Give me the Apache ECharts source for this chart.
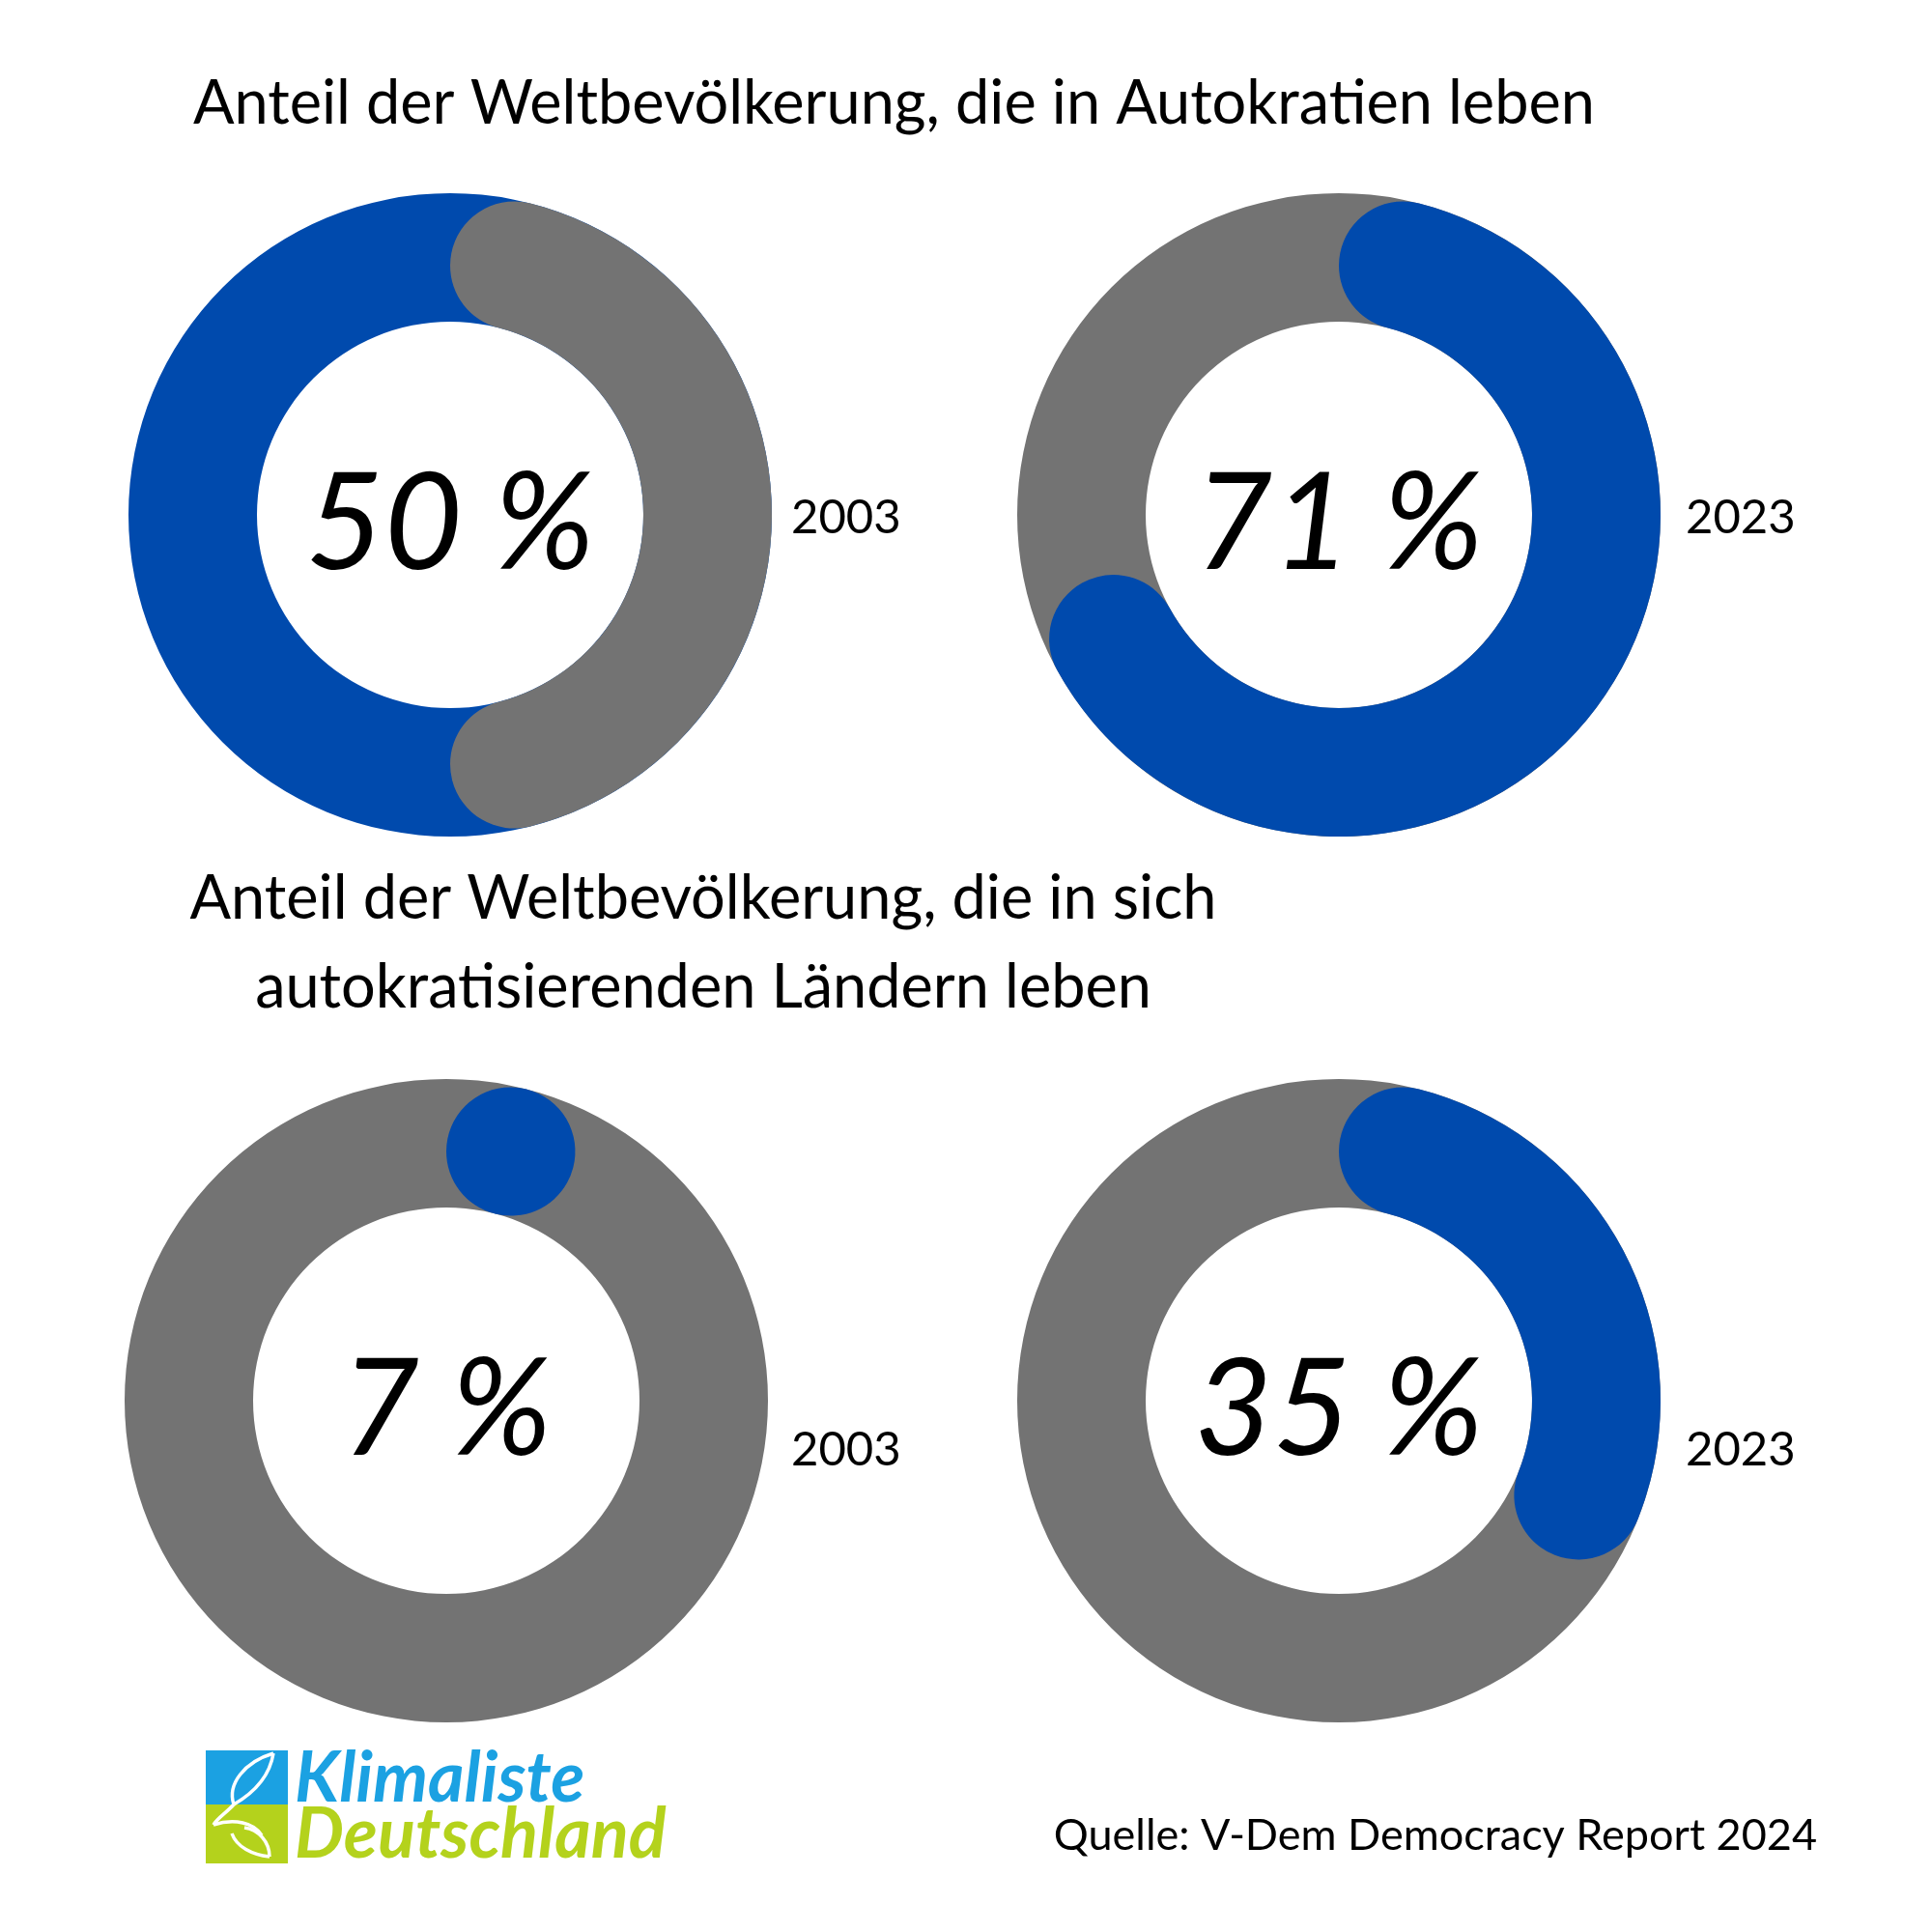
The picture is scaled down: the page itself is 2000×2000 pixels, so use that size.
<!DOCTYPE html>
<html><head><meta charset="utf-8">
<script src="https://cdn.jsdelivr.net/npm/echarts@6/dist/echarts.min.js"></script>
<style>html,body{margin:0;padding:0;background:#fff}#c{width:2000px;height:2000px}</style>
</head><body><div id="c"></div>
<script>
// ---- data ----
const years = ['2003', '2023', '2003', '2023'];
const shares = [50, 71, 7, 35];               // % of world population
const titles = ['Anteil der Weltbevölkerung, die in Autokratien leben',
                'Anteil der Weltbevölkerung, die in sich\nautokratisierenden Ländern leben'];
const sourceText = 'Quelle: V-Dem Democracy Report 2024';
const logoLines = ['Klimaliste', 'Deutschland'];

// ---- style / layout ----
const BLUE = '#004AAD', GRAY = '#737373', NONE = 'rgba(0,0,0,0)';
const FONT = 'Lato, "Open Sans", "Noto Sans", sans-serif';
const centers = [[466, 533], [1386, 533], [462, 1450], [1386, 1450]];
const yearPos = [[819, 536], [1745, 536], [819, 1501], [1745, 1501]];
const R0 = 200, R1 = 333, CAP = (R1 - R0) / 2;
const LABEL_DY = 11;
const MIN_ANGLE = 29; // a rounded arc can not be shorter than a full circle cap
const arcIsRest = [true, false, false, false]; // first donut: grey arc drawn over blue ring

const series = [];
shares.forEach((s, i) => {
  const rest = 100 - s;
  series.push({
    type: 'pie', center: centers[i], radius: [R0, R1], startAngle: 90,
    silent: true, animation: false,
    data: [{ value: 100, itemStyle: { color: arcIsRest[i] ? BLUE : GRAY } }],
    label: { show: false }, labelLine: { show: false }
  });
  const arc = arcIsRest[i]
    ? [{ value: rest, itemStyle: { color: GRAY, borderRadius: CAP } }, { value: s, itemStyle: { color: NONE } }]
    : [{ value: s, itemStyle: { color: BLUE, borderRadius: CAP } }, { value: rest, itemStyle: { color: NONE } }];
  series.push({
    type: 'pie', center: centers[i], radius: [R0, R1], startAngle: 90, clockwise: true,
    minAngle: MIN_ANGLE, silent: true, animation: false, data: arc,
    label: { show: false }, labelLine: { show: false }
  });
});

const txt = (text, x, y, size, align, extra) => ({
  type: 'text', x, y, silent: true,
  style: Object.assign({ text, fontSize: size, fontFamily: FONT, fill: '#000',
    textAlign: align, align: align, textVerticalAlign: 'middle', verticalAlign: 'middle' }, extra || {})
});

const graphics = [
  txt(titles[0], 200, 108, 63, 'left'),
  txt(titles[1], 728, 977, 63, 'center', { lineHeight: 92 }),
  txt(sourceText, 1881, 1900, 45, 'right'),
];
years.forEach((y, i) => graphics.push(txt(y, yearPos[i][0], yearPos[i][1], 49, 'left')));
shares.forEach((s, i) => graphics.push(
  txt(s + ' %', centers[i][0], centers[i][1] + LABEL_DY, 140, 'center', { fontStyle: 'italic' })));

// logo
const LX = 213, LY = 1812;
graphics.push({ type: 'rect', silent: true, shape: { x: LX, y: LY, width: 85, height: 56 }, style: { fill: '#1BA1E2' } });
graphics.push({ type: 'rect', silent: true, shape: { x: LX, y: LY + 56, width: 85, height: 61 }, style: { fill: '#B4D21C' } });
const bz = (x1, y1, c1x, c1y, c2x, c2y, x2, y2) => ({
  type: 'bezierCurve', silent: true, x: LX, y: LY,
  shape: { x1, y1, cpx1: c1x, cpy1: c1y, cpx2: c2x, cpy2: c2y, x2, y2 },
  style: { stroke: '#fff', lineWidth: 3.5, fill: null }
});
graphics.push(bz(29, 56, 22, 35, 40, 12, 70, 3));
graphics.push(bz(70, 3, 66, 28, 48, 45, 29, 56));
graphics.push(bz(29, 56, 22, 64, 12, 70, 8, 77));
graphics.push(bz(8, 77, 30, 70, 50, 75, 58, 88));
graphics.push(bz(27, 86, 32, 100, 48, 108, 66, 110));
graphics.push(bz(66, 110, 66, 95, 55, 82, 40, 80));
graphics.push(txt(logoLines[0], 305, 1842, 72, 'left', { fill: '#1BA1E2', fontWeight: 'bold', fontStyle: 'italic' }));
graphics.push(txt(logoLines[1], 305, 1900, 72, 'left', { fill: '#B4D21C', fontWeight: 'bold', fontStyle: 'italic' }));

const chart = echarts.init(document.getElementById('c'));
chart.setOption({ backgroundColor: '#fff', animation: false, series, graphic: { elements: graphics } });
</script></body></html>
